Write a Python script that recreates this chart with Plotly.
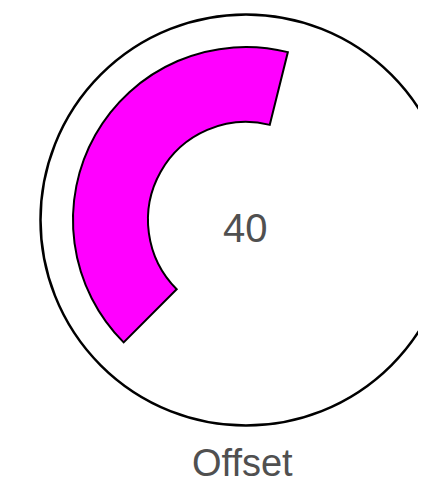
import plotly.graph_objects as go

# data
bar_start_deg = [225]      # where the arc begins (clockwise from top)
bar_span_deg = [149]       # angular extent of the arc
bar_base = [47.7]          # radial offset (inner radius)
bar_length = [36.5]        # radial length of the bar
ring_r = 100               # outer reference ring
center_value = "40"
label_text = "Offset"

# page has an 8px body margin; size figure to fit the window
PAD = 8
W, H = 426 - PAD, 488 - PAD
cx, cy_top = 246 - PAD, 220 - PAD   # centre in figure pixels (from top-left)
ring_px = 205.5
dom_px = 178
px_per_unit = ring_px / ring_r
rmax = dom_px / px_per_unit

fig = go.Figure()

fig.add_trace(go.Barpolar(
    r=bar_length, base=bar_base,
    theta=[s + w / 2 for s, w in zip(bar_start_deg, bar_span_deg)],
    width=bar_span_deg,
    marker=dict(color="#ff00ff", line=dict(color="black", width=2)),
    showlegend=False))

cy_b = H - cy_top
ring_rad = ring_r * px_per_unit
fig.update_layout(
    width=W, height=H, margin=dict(l=0, r=0, t=0, b=0),
    paper_bgcolor="white", plot_bgcolor="white", showlegend=False,
    polar=dict(
        domain=dict(x=[(cx - dom_px) / W, (cx + dom_px) / W],
                    y=[(cy_b - dom_px) / H, (cy_b + dom_px) / H]),
        bgcolor="rgba(0,0,0,0)",
        radialaxis=dict(range=[0, rmax], visible=False, showgrid=False),
        angularaxis=dict(direction="clockwise", rotation=90, visible=False,
                         showgrid=False, showline=False, ticks=""),
    ),
    shapes=[dict(type="circle", xref="paper", yref="paper",
                 x0=(cx - ring_rad) / W, x1=(cx + ring_rad) / W,
                 y0=(cy_b - ring_rad) / H, y1=(cy_b + ring_rad) / H,
                 line=dict(color="black", width=2.5), layer="below")],
    annotations=[
        dict(text=center_value, x=(245 - PAD) / W, y=(H - (228 - PAD)) / H,
             xref="paper", yref="paper", showarrow=False,
             font=dict(family="Liberation Sans, Arial", size=40, color="#505050"),
             xanchor="center", yanchor="middle"),
        dict(text=label_text, x=(242 - PAD) / W, y=(H - (463 - PAD)) / H,
             xref="paper", yref="paper", showarrow=False,
             font=dict(family="Liberation Sans, Arial", size=38, color="#505050"),
             xanchor="center", yanchor="middle"),
    ],
)

fig.write_html("out.html")
